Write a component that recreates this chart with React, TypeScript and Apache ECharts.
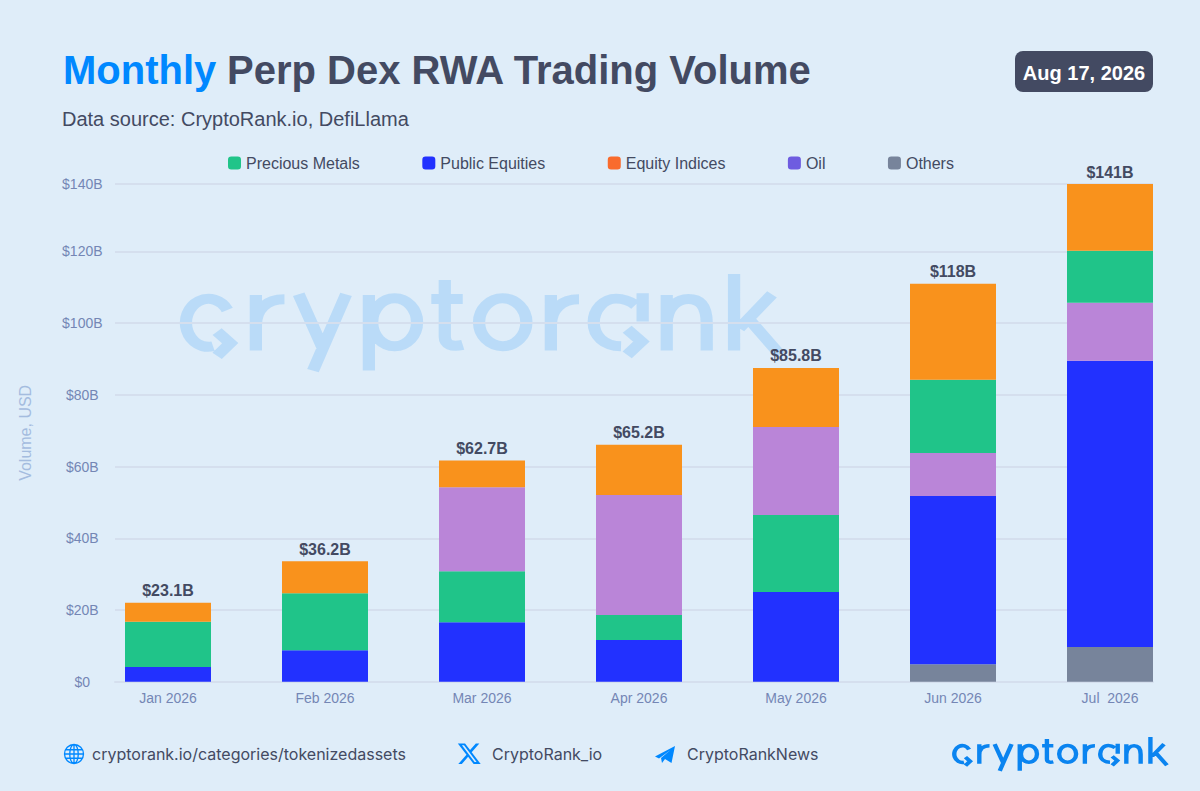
import React, { useEffect, useRef } from "react";
import * as echarts from "echarts";

const months = ["Jan 2026", "Feb 2026", "Mar 2026", "Apr 2026", "May 2026", "Jun 2026", "Jul  2026"];
const others = [null, null, null, null, null, 4.9, 9.7];
const publicEquities = [4.1, 8.8, 16.6, 11.6, 25, 46.9, 79.8];
const preciousMetals = [12.6, 15.9, 14.2, 7, 21.5, 20.4, 14.5];
const oil = [null, null, 23.4, 33.5, 24.5, 12, 16.2];
const equityIndices = [5.3, 8.9, 7.5, 14, 16.5, 26.8, 22.6];
const totalLabels = ["$23.1B", "$36.2B", "$62.7B", "$65.2B", "$85.8B", "$118B", "$141B"];
// Months whose stack has Precious Metals above Oil instead of below it.
const preciousAboveOil = [false, false, false, false, false, true, true];
const legendNames = ["Precious Metals", "Public Equities", "Equity Indices", "Oil", "Others"];
const yTicks = [0, 20, 40, 60, 80, 100, 120, 138.8];
const yTickLabels = ["$0", "$20B", "$40B", "$60B", "$80B", "$100B", "$120B", "$140B"];

const SANS = '"Liberation Sans", Arial, sans-serif';
const INK = "#434A62";
const BLUE = "#0088FF";
const TICK = "#7486B5";

const LOGO =
  "M165 150A55 72 0 1 0 130 259M140 215L172 250L140 288" +
  "M235 105V272M235 195C235 150 260 118 305 118" +
  "M340 103L398 262M456 103L375 332" +
  "M512 105V332M520 187A55 72 0 1 1 630 187A55 72 0 1 1 520 187Z" +
  "M698 60V230C698 255 715 262 742 255M665 117H742" +
  "M782 187A58 72 0 1 1 898 187A58 72 0 1 1 782 187Z" +
  "M958 105V272M958 195C958 150 983 118 1027 118" +
  "M1165 135C1150 122 1135 116 1118 116C1088 116 1063 148 1063 188C1063 228 1088 258 1130 259M1183 100V185M1145 208L1180 245L1145 285" +
  "M1242 105V272M1242 190C1242 140 1270 117 1295 117C1325 117 1340 140 1340 190V272" +
  "M1407 42V272M1500 103L1420 205M1445 180L1520 285";
const GLOBE =
  "M0 10A10 10 0 1 1 20 10A10 10 0 1 1 0 10ZM10 0A4.5 10 0 1 1 10 20A4.5 10 0 1 1 10 0ZM10 0V20M0 10H20M1.4 5.5H18.6M1.4 14.5H18.6";
const XICON =
  "M18.244 2.25h3.308l-7.227 8.26 8.502 11.24H16.17l-5.214-6.817L4.99 21.75H1.68l7.73-8.835L1.254 2.25H8.08l4.713 6.231zm-1.161 17.52h1.833L7.084 4.126H5.117z";
const PLANE = "M0 10.5L20 0L16.5 17L10 13L7 17L6 12L15.5 4L4 12.5Z";

echarts.graphic.registerShape("crLogo", echarts.graphic.extendPath(LOGO, {}) as any);
echarts.graphic.registerShape("crGlobe", echarts.graphic.extendPath(GLOBE, {}) as any);
echarts.graphic.registerShape("crX", echarts.graphic.extendPath(XICON, {}) as any);
echarts.graphic.registerShape("crPlane", echarts.graphic.extendPath(PLANE, {}) as any);

const barSeries = (name: string, color: string, data: (number | null)[], extra: object = {}) => ({
  name,
  type: "bar",
  stack: "total",
  xAxisIndex: 1,
  yAxisIndex: 1,
  barWidth: 86,
  itemStyle: { color },
  data,
  ...extra,
});

const text = (x: number, y: number, value: string, fill: string, font: string, fontSize: number, fontWeight = 400, align = "left") => ({
  type: "text",
  x,
  y,
  silent: true,
  style: { text: value, fill, fontFamily: font, fontSize, fontWeight, textAlign: align, textVerticalAlign: "middle" },
});

export default function App() {
  const ref = useRef<HTMLDivElement>(null);
  useEffect(() => {
    document.body.style.margin = "0";
    const chart = echarts.init(ref.current!, null, { renderer: "svg" });
    chart.setOption({
      animation: false,
      backgroundColor: "#DFEDF9",
      textStyle: { fontFamily: SANS },
      grid: [
        { left: 115, right: 47, top: 184, height: 497.7 },
        { left: 89.5, right: 11.5, top: 184, height: 497.7 },
      ],
      legend: {
        left: 223,
        top: 150,
        icon: "roundRect",
        itemWidth: 13,
        itemHeight: 13,
        itemGap: 62.5,
        textStyle: { color: INK, fontSize: 16, fontFamily: SANS },
        data: [
          { name: legendNames[0], itemStyle: { color: "#20C489" } },
          { name: legendNames[1], itemStyle: { color: "#2231FF" } },
          { name: legendNames[2], itemStyle: { color: "#F96B2D" } },
          { name: legendNames[3], itemStyle: { color: "#6E5CE0" } },
          { name: legendNames[4], itemStyle: { color: "#77849B" } },
        ],
      },
      xAxis: [
        {
          type: "category",
          gridIndex: 0,
          data: months,
          axisLine: { show: true, lineStyle: { color: "#D5DFEE", width: 2 } },
          axisTick: { show: false },
          axisLabel: { show: false },
          splitLine: { show: false },
        },
        {
          type: "category",
          gridIndex: 1,
          data: months,
          axisLine: { show: false },
          axisTick: { show: false },
          axisLabel: { color: TICK, fontSize: 14, margin: 9, fontFamily: SANS, interval: 0 },
        },
      ],
      yAxis: [
        {
          type: "value",
          gridIndex: 0,
          min: 0,
          max: 138.8,
          name: "Volume, USD",
          nameLocation: "middle",
          nameGap: 82,
          nameTextStyle: { color: "#A4BCDF", fontSize: 16, fontFamily: SANS },
          axisLine: { show: false },
          axisTick: { show: false, customValues: yTicks },
          axisLabel: {
            customValues: yTicks,
            color: TICK,
            fontSize: 14,
            fontFamily: SANS,
            align: "center",
            margin: 32.7,
            formatter: (v: number) => yTickLabels[yTicks.indexOf(v)] ?? "",
          },
          splitLine: { show: true, lineStyle: { color: "#D5DFEE", width: 2 } },
        },
        {
          type: "value",
          gridIndex: 1,
          min: 0,
          max: 138.8,
          show: false,
          splitLine: { show: false },
        },
      ],
      series: [
        barSeries("Others", "#77849B", others),
        barSeries("Public Equities", "#2231FF", publicEquities),
        barSeries("Precious Metals", "#20C489", preciousMetals.map((v, i) => (preciousAboveOil[i] ? null : v))),
        barSeries("Oil", "#BA85D8", oil),
        barSeries("Precious Metals", "#20C489", preciousMetals.map((v, i) => (preciousAboveOil[i] ? v : null))),
        barSeries("Equity Indices", "#F9921C", equityIndices, {
          label: {
            show: true,
            position: "top",
            distance: 4,
            color: INK,
            fontSize: 16,
            fontWeight: 700,
            fontFamily: SANS,
            formatter: (p: any) => totalLabels[p.dataIndex],
          },
        }),
      ],
      graphic: [
        { type: "crLogo", x: 160, y: 260, scaleX: 0.408, scaleY: 0.3333, z: -1, silent: true, style: { fill: "none", stroke: "rgba(40,150,245,0.2)", lineWidth: 30 } },
        text(63, 70, "Monthly", BLUE, SANS, 40, 700),
        text(227, 70, "Perp Dex RWA Trading Volume", INK, SANS, 40, 700),
        text(62, 119, "Data source: CryptoRank.io, DefiLlama", INK, SANS, 20),
        { type: "rect", x: 1015, y: 51, shape: { width: 138, height: 41, r: 8 }, silent: true, style: { fill: INK } },
        text(1084, 73, "Aug 17, 2026", "#FFFFFF", SANS, 20, 700, "center"),
        { type: "crGlobe", x: 64.5, y: 744.5, scaleX: 0.95, scaleY: 0.95, silent: true, style: { fill: "none", stroke: BLUE, lineWidth: 1.4 } },
        text(92, 754, "cryptorank.io/categories/tokenizedassets", INK, "Inter", 16),
        { type: "crX", x: 456.5, y: 741, scaleX: 1.06, scaleY: 1.06, silent: true, style: { fill: BLUE } },
        text(492, 754, "CryptoRank_io", INK, "Inter", 16),
        { type: "crPlane", x: 655, y: 746, silent: true, style: { fill: BLUE } },
        text(687, 754, "CryptoRankNews", INK, "Inter", 16),
        { type: "crLogo", x: 945, y: 732, scaleX: 0.1456, scaleY: 0.1167, silent: true, style: { fill: "none", stroke: "#0A84F0", lineWidth: 30 } },
      ],
    });
    return () => chart.dispose();
  }, []);
  return <div ref={ref} style={{ position: "absolute", left: 0, top: 0, width: 1200, height: 791 }} />;
}
